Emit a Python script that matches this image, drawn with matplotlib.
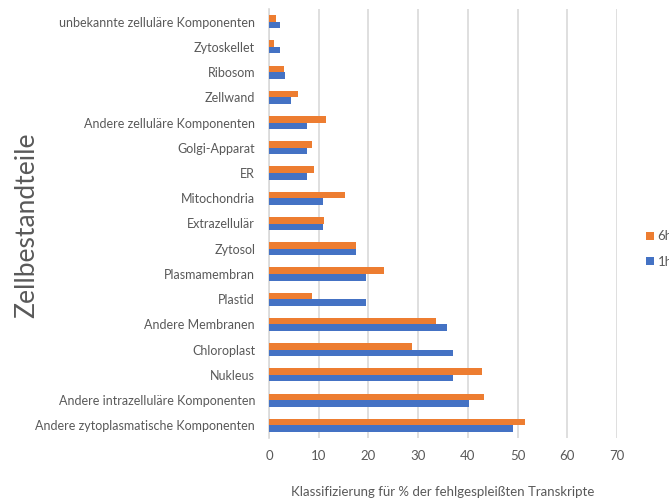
import matplotlib
matplotlib.use("Agg")
import matplotlib.pyplot as plt
import numpy as np

categories = [
    "Andere zytoplasmatische Komponenten",
    "Andere intrazelluläre Komponenten",
    "Nukleus",
    "Chloroplast",
    "Andere Membranen",
    "Plastid",
    "Plasmamembran",
    "Zytosol",
    "Extrazellulär",
    "Mitochondria",
    "ER",
    "Golgi-Apparat",
    "Andere zelluläre Komponenten",
    "Zellwand",
    "Ribosom",
    "Zytoskellet",
    "unbekannte zelluläre Komponenten",
]
values_1h = [49.1, 40.3, 37.0, 37.0, 35.9, 19.5, 19.5, 17.4, 10.8, 10.8,
             7.7, 7.7, 7.7, 4.4, 3.2, 2.2, 2.2]
values_6h = [51.5, 43.2, 42.9, 28.7, 33.5, 8.6, 23.2, 17.6, 11.1, 15.3,
             9.0, 8.7, 11.4, 5.8, 3.1, 1.1, 1.35]
series_names = ["6h", "1h"]
x_ticks = [0, 10, 20, 30, 40, 50, 60, 70]

ORANGE = "#ED7D31"
BLUE = "#4472C4"
TEXT = "#595959"
GRID = "#D9D9D9"

plt.rcParams["font.family"] = ["Lato", "DejaVu Sans"]

fig = plt.figure(figsize=(6.69, 5.01), dpi=100)
ax = fig.add_axes([269 / 669, 1 - 438 / 501, (617 - 269) / 669, (438 - 9) / 501])

y = np.arange(len(categories))
h = 0.26
ax.barh(y + h / 2, values_6h, height=h, color=ORANGE, label=series_names[0], zorder=3)
ax.barh(y - h / 2, values_1h, height=h, color=BLUE, label=series_names[1], zorder=3)

ax.set_xlim(0, 70)
ax.set_ylim(-0.5, len(categories) - 0.5)
ax.set_xticks(x_ticks)
ax.set_xticklabels([str(t) for t in x_ticks], color=TEXT, fontsize=9.5)
ax.set_yticks(y)
ax.set_yticklabels(categories, color=TEXT, fontsize=9)
ax.tick_params(axis="x", length=0, pad=9)
ax.tick_params(axis="y", length=0, pad=10)
ax.grid(axis="x", color=GRID, linewidth=1.2, zorder=0)
for s in ["top", "right", "bottom"]:
    ax.spines[s].set_visible(False)
ax.spines["left"].set_color(GRID)
ax.spines["left"].set_linewidth(1.2)

ax.set_xlabel("Klassifizierung für % der fehlgespleißten Transkripte",
              color=TEXT, fontsize=9.5, labelpad=17)
fig.text(27 / 669, 1 - 225 / 501, "Zellbestandteile", rotation=90,
         color=TEXT, fontsize=19, ha="center", va="center")

fig.legend(loc="center left", bbox_to_anchor=(641 / 669, 1 - 249 / 501),
           frameon=False, fontsize=9.5, labelcolor=TEXT,
           handlelength=0.6, handleheight=0.6, handletextpad=0.25,
           labelspacing=1.0, borderaxespad=0)

fig.savefig("out.png", dpi=100)
